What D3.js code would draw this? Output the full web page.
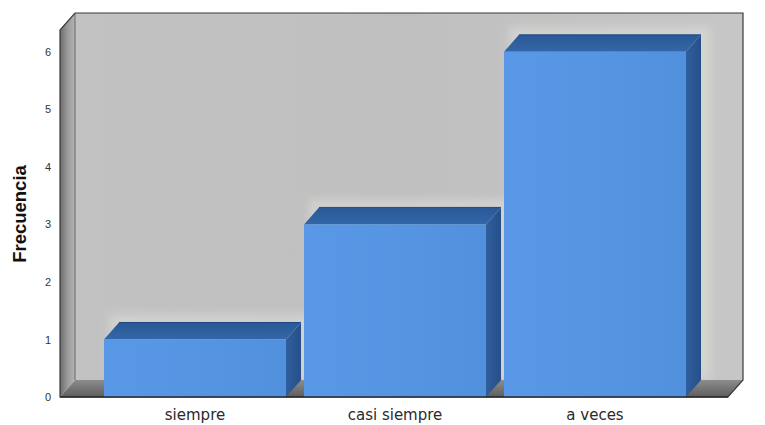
<!DOCTYPE html>
<html>
<head>
<meta charset="utf-8">
<script src="https://cdn.jsdelivr.net/npm/d3@7/dist/d3.min.js"></script>
<style>
  html, body { margin: 0; padding: 0; background: #ffffff; }
  svg { display: block; }
</style>
</head>
<body>
<svg id="chart" width="765" height="425"></svg>
<script>
// Frequency of each answer category
const categories = ["siempre", "casi siempre", "a veces"];
const frecuencias = [1, 3, 6];
const yTicks = [0, 1, 2, 3, 4, 5, 6];
const yTitle = "Frecuencia";

const svg = d3.select("#chart");

// Front plane of the 3D box, and its depth offset
const front = { left: 60, right: 728, top: 30, bottom: 397 };
const depth = { dx: 15, dy: -17 };

const y = d3.scaleLinear().domain([0, 6.38]).range([front.bottom, front.top]);
const x = d3.scaleBand().domain(categories)
  .range([95, 695]).paddingInner(0.09).paddingOuter(0.045);

const defs = svg.append("defs");

const lg = (id, x1, y1, x2, y2, stops) => {
  const g = defs.append("linearGradient").attr("id", id)
    .attr("x1", x1).attr("y1", y1).attr("x2", x2).attr("y2", y2);
  stops.forEach(([o, c]) => g.append("stop").attr("offset", o).attr("stop-color", c));
};
lg("wallBack", "0", "0", "1", "0", [["0", "#c2c2c2"], ["0.5", "#c0c0c0"], ["1", "#c6c6c6"]]);
lg("wallLeft", "0", "0", "1", "0", [["0", "#6c6c6c"], ["0.5", "#9a9a9a"], ["1", "#b4b4b4"]]);
lg("floor", "0", "1", "0", "0", [["0", "#5e5e5e"], ["1", "#8c8c8c"]]);
lg("barFront", "0", "0", "1", "0", [["0", "#5898e6"], ["0.5", "#5595e2"], ["1", "#5190dc"]]);
lg("barTop", "0", "1", "0", "0", [["0", "#3367a8"], ["1", "#2a5896"]]);
lg("barSide", "0", "0", "1", "0", [["0", "#2f5f9e"], ["1", "#264f88"]]);

defs.append("filter").attr("id", "soft")
  .attr("x", "-20%").attr("y", "-20%").attr("width", "140%").attr("height", "140%")
  .append("feGaussianBlur").attr("stdDeviation", 4);

const backLeft = front.left + depth.dx, backRight = front.right + depth.dx;
const backTop = front.top + depth.dy, backBottom = front.bottom + depth.dy;

defs.append("clipPath").attr("id", "backClip")
  .append("rect").attr("x", backLeft).attr("y", backTop)
  .attr("width", backRight - backLeft).attr("height", backBottom - backTop);

const pts = a => a.map(p => p.join(",")).join(" ");

// Back wall
svg.append("rect")
  .attr("x", backLeft).attr("y", backTop)
  .attr("width", backRight - backLeft).attr("height", backBottom - backTop)
  .attr("fill", "url(#wallBack)");

// Light halo the bars leave on the back wall
svg.append("g").attr("clip-path", "url(#backClip)")
  .selectAll("rect").data(categories).join("rect")
  .attr("x", d => x(d) + depth.dx - 10)
  .attr("y", (d, i) => y(frecuencias[i]) + depth.dy - 8)
  .attr("width", x.bandwidth() + 20)
  .attr("height", (d, i) => backBottom - (y(frecuencias[i]) + depth.dy - 8))
  .attr("fill", "#e4e4de").attr("opacity", 0.45)
  .attr("filter", "url(#soft)");

// Left wall
svg.append("polygon")
  .attr("points", pts([[front.left, front.top], [backLeft, backTop], [backLeft, backBottom], [front.left, front.bottom]]))
  .attr("fill", "url(#wallLeft)");

// Floor
svg.append("polygon")
  .attr("points", pts([[front.left, front.bottom], [backLeft, backBottom], [backRight, backBottom], [front.right, front.bottom]]))
  .attr("fill", "url(#floor)");

// Box outline
svg.append("path")
  .attr("d", `M${front.left},${front.bottom} L${front.left},${front.top} L${backLeft},${backTop} L${backRight},${backTop} L${backRight},${backBottom} L${front.right},${front.bottom} Z`)
  .attr("fill", "none").attr("stroke", "#3a3a3a").attr("stroke-width", 1.2);
svg.append("line")
  .attr("x1", backLeft).attr("y1", backTop).attr("x2", backLeft).attr("y2", backBottom)
  .attr("stroke", "#555").attr("stroke-width", 0.8);

// Bars
const bars = svg.append("g").selectAll("g").data(categories).join("g");
bars.each(function(d, i) {
  const g = d3.select(this);
  const x0 = x(d), x1 = x(d) + x.bandwidth();
  const yt = y(frecuencias[i]), yb = y(0);
  // side face
  g.append("polygon")
    .attr("points", pts([[x1, yt], [x1 + depth.dx, yt + depth.dy], [x1 + depth.dx, yb + depth.dy], [x1, yb]]))
    .attr("fill", "url(#barSide)");
  // top face
  g.append("polygon")
    .attr("points", pts([[x0, yt], [x0 + depth.dx, yt + depth.dy], [x1 + depth.dx, yt + depth.dy], [x1, yt]]))
    .attr("fill", "url(#barTop)");
  g.append("line")
    .attr("x1", x0 + depth.dx).attr("y1", yt + depth.dy).attr("x2", x1 + depth.dx).attr("y2", yt + depth.dy)
    .attr("stroke", "#1f4a85").attr("stroke-width", 1);
  // front face
  g.append("rect")
    .attr("x", x0).attr("y", yt).attr("width", x1 - x0).attr("height", yb - yt)
    .attr("fill", "url(#barFront)");
});

// Front bottom edge
svg.append("line")
  .attr("x1", front.left).attr("y1", front.bottom).attr("x2", front.right).attr("y2", front.bottom)
  .attr("stroke", "#2a2a2a").attr("stroke-width", 1.4);

// Y axis
const yAxis = svg.append("g")
  .attr("transform", `translate(${front.left},0)`)
  .call(d3.axisLeft(y).tickValues(yTicks).tickFormat(d3.format("d")).tickSize(0).tickPadding(9));
yAxis.select(".domain").remove();
yAxis.selectAll("text")
  .attr("font-family", "Liberation Sans, Arial, sans-serif")
  .attr("font-size", 11).attr("fill", "#333");

// X axis
const xAxis = svg.append("g")
  .attr("transform", `translate(0,${front.bottom})`)
  .call(d3.axisBottom(x).tickSize(0).tickPadding(12));
xAxis.select(".domain").remove();
xAxis.selectAll("text")
  .attr("font-family", "DejaVu Sans, Verdana, sans-serif")
  .attr("font-size", 15).attr("fill", "#2a2a2a");

// Y title
svg.append("text")
  .attr("transform", "translate(26,214) rotate(-90)")
  .attr("text-anchor", "middle")
  .attr("font-family", "Liberation Sans, Arial, sans-serif")
  .attr("font-weight", "bold").attr("font-size", 18.5).attr("fill", "#111")
  .text(yTitle);
</script>
</body>
</html>
